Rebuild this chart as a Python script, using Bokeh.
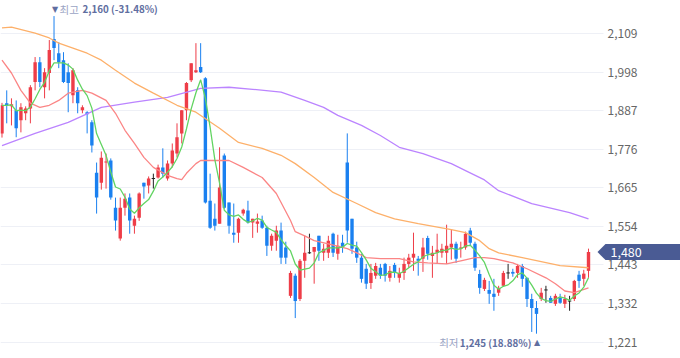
import numpy as np
import pandas as pd
from bokeh.plotting import figure
from bokeh.models import (Range1d, FixedTicker, NumeralTickFormatter, Label, LinearAxis,
                          PolyAnnotation, BoxAnnotation, ColumnDataSource)
from bokeh.embed import file_html
from bokeh.resources import INLINE
from bokeh.core.properties import value

# ---- daily OHLC ----
opens = [1822,1909,1900,1889,1860,1880,1894,1970,2027,1955,1996,2094,2053,2033,1998,1932,1946,1889,1883,1854,
         1709,1680,1738,1744,1608,1519,1608,1637,1556,1579,1680,1672,1692,1695,1724,1692,1735,1764,1822,1889,
         1975,1998,2013,1981,1628,1576,1562,1758,1623,1536,1536,1591,1600,1565,1562,1571,1550,1498,1513,1542,
         1493,1354,1412,1345,1455,1478,1481,1527,1478,1478,1533,1475,1507,1738,1576,1493,1464,1432,1391,1412,
         1435,1446,1406,1443,1406,1420,1446,1464,1461,1461,1521,1469,1478,1478,1478,1493,1504,1490,1493,1542,
         1504,1417,1374,1371,1360,1363,1383,1420,1423,1420,1440,1406,1345,1319,1345,1371,1348,1331,1348,1331,
         1339,1345,1415,1403,1426]
highs = [1910,1946,1923,1917,1909,1900,1961,2042,2042,2010,2091,2160,2085,2056,2024,2010,1955,1903,1886,1860,
         1738,1770,1764,1750,1637,1637,1649,1649,1585,1652,1680,1698,1706,1732,1779,1744,1793,1851,1889,1970,
         2024,2082,2082,1984,1706,1620,1782,1764,1623,1620,1579,1605,1628,1576,1591,1585,1556,1533,1556,1565,
         1510,1426,1418,1460,1527,1533,1495,1527,1504,1527,1536,1530,1530,1822,1576,1510,1475,1446,1446,1449,
         1446,1449,1440,1449,1435,1464,1475,1536,1469,1521,1527,1498,1533,1504,1559,1545,1510,1510,1539,1550,
         1510,1429,1406,1397,1403,1383,1426,1446,1432,1446,1446,1406,1360,1339,1377,1383,1354,1360,1360,1357,
         1354,1400,1426,1429,1490]
lows = [1810,1851,1845,1811,1825,1860,1851,1946,1955,1923,1946,2033,2010,1967,1883,1909,1880,1880,1822,1767,
        1591,1660,1663,1631,1542,1513,1585,1533,1533,1570,1634,1649,1663,1692,1695,1686,1724,1753,1793,1860,
        1970,1996,1996,1620,1547,1542,1562,1605,1533,1507,1507,1585,1562,1521,1536,1547,1469,1484,1484,1446,
        1446,1348,1290,1339,1406,1475,1389,1455,1455,1463,1466,1458,1478,1507,1475,1449,1392,1374,1374,1403,
        1403,1395,1395,1406,1392,1400,1435,1426,1412,1423,1458,1406,1446,1464,1446,1458,1449,1464,1487,1498,
        1426,1360,1368,1331,1311,1354,1380,1403,1409,1406,1380,1322,1250,1245,1339,1334,1334,1325,1331,1319,
        1311,1339,1377,1383,1406]
closes = [1903,1903,1906,1837,1897,1894,1955,2027,1970,1998,2062,2068,2027,1970,1967,2004,1909,1897,1877,1787,
          1637,1752,1741,1637,1571,1608,1634,1571,1576,1649,1669,1692,1692,1724,1706,1735,1773,1811,1889,1967,
          2024,2004,1998,1623,1550,1556,1666,1608,1556,1530,1576,1602,1565,1576,1568,1550,1498,1527,1542,1464,
          1464,1420,1339,1455,1478,1478,1495,1484,1490,1513,1478,1498,1493,1542,1490,1464,1403,1389,1420,1440,
          1412,1412,1426,1420,1420,1446,1464,1475,1455,1493,1475,1478,1487,1490,1498,1504,1461,1493,1533,1507,
          1435,1377,1400,1360,1351,1377,1420,1420,1418,1440,1403,1345,1319,1302,1363,1371,1334,1354,1334,1345,
          1339,1397,1397,1418,1480]

# ---- moving-average lines (candle index, value) ----
ma20_idx = [0,2,4,6,8,10,12,14,17,19,22,24,26,28,30,32,35,37,38,39,41,42,48,51,55,58,61,62,64,66,69,73,75,77,
            80,84,87,90,94,97,100,102,104,108,111,115,117,119,121,124]
ma20_val = [2033,1996,1946,1909,1897,1903,1917,1938,1946,1938,1917,1880,1831,1793,1753,1724,1701,1692,1689,1707,
            1735,1744,1744,1724,1695,1649,1571,1539,1527,1513,1504,1490,1478,1464,1461,1461,1452,1449,1446,1455,
            1464,1464,1461,1449,1432,1406,1389,1368,1363,1377]
ma60_idx = [0,2,7,10,12,15,18,21,24,28,32,37,41,46,50,55,59,62,66,70,75,79,83,88,95,98,101,103,105,110,118,124]
ma60_val = [2126,2128,2111,2097,2082,2068,2053,2033,2004,1967,1938,1903,1883,1837,1796,1779,1759,1735,1695,1652,
            1620,1594,1576,1562,1545,1536,1513,1490,1478,1464,1441,1435]
ma120_idx = [0,7,14,21,28,35,42,48,53,59,64,68,71,76,80,84,89,95,98,102,105,112,120,124]
ma120_val = [1787,1822,1854,1897,1912,1926,1952,1955,1949,1941,1917,1897,1874,1845,1816,1782,1764,1735,1715,1688,
             1657,1620,1594,1576]

y_ticks = [1221, 1332, 1443, 1554, 1665, 1776, 1887, 1998, 2109]

# ---- styling ----
UP, DOWN, DOJI = "#ee3d48", "#1a80f0", "#222222"
C_MA5, C_MA20, C_MA60, C_MA120 = "#62d462", "#fb8585", "#fdb06a", "#bb84ff"
TAG = "#4a5b94"
FONT = "Noto Sans CJK KR"

W, H = 680, 358
AXIS_PX = 603                      # pixel column where the price scale begins
Y0, Y1 = 1173.5, 2204.9
X0, X1 = -0.317, 143.45
X_AX = X0 + AXIS_PX / W * (X1 - X0)

n = len(closes)
idx = np.arange(n)
ma5 = pd.Series(closes, dtype=float).rolling(5, min_periods=1).mean()

o = np.array(opens, float); c = np.array(closes, float)
doji = o == c
colors = np.where(c > o, UP, DOWN)

p = figure(width=W, height=H, output_backend="svg", toolbar_location=None,
           x_range=Range1d(X0, X1), y_range=Range1d(Y0, Y1),
           x_axis_location=None, y_axis_location=None,
           min_border_left=0, min_border_right=0, min_border_top=0, min_border_bottom=0)
p.outline_line_color = None
p.background_fill_color = "white"
p.border_fill_color = "white"
p.xgrid.visible = False
p.ygrid.ticker = FixedTicker(ticks=y_ticks)
p.ygrid.grid_line_color = "#eef0f6"
p.ygrid.grid_line_width = 1

# blank out the grid behind the price scale
p.add_layout(BoxAnnotation(left=X_AX, fill_color="white", fill_alpha=1.0, line_color=None, level="underlay"))

ax = LinearAxis(fixed_location=X_AX, ticker=FixedTicker(ticks=y_ticks),
                formatter=NumeralTickFormatter(format="0,0"))
ax.axis_line_color = None
ax.major_tick_line_color = None
ax.minor_tick_line_color = None
ax.major_tick_out = 0
ax.major_tick_in = 0
ax.major_label_standoff = 4
ax.major_label_text_font = FONT
ax.major_label_text_font_size = "12px"
ax.major_label_text_color = "#666666"
p.add_layout(ax, "right")

wick_col = np.where(doji, DOJI, colors)
src = ColumnDataSource(dict(x=idx, h=highs, l=lows, col=wick_col))
p.segment(x0="x", y0="l", x1="x", y1="h", line_color="col", line_width=1, source=src)

body = ColumnDataSource(dict(x=idx[~doji], top=np.maximum(o, c)[~doji], bot=np.minimum(o, c)[~doji],
                             col=colors[~doji]))
p.vbar(x="x", width=0.72, top="top", bottom="bot", fill_color="col", line_color=None, source=body)
dj = idx[doji]
p.segment(x0=dj - 0.36, y0=c[doji], x1=dj + 0.36, y1=c[doji], line_color=DOJI, line_width=1)

p.line(ma120_idx, ma120_val, line_color=C_MA120, line_width=1.3)
p.line(ma60_idx, ma60_val, line_color=C_MA60, line_width=1.3)
p.line(ma20_idx, ma20_val, line_color=C_MA20, line_width=1.3)
p.line(idx, ma5, line_color=C_MA5, line_width=1.3)

# ---- high / low markers ----
hi_i = int(np.argmax(highs)); hi_v = highs[hi_i]
lo_i = int(np.argmin(lows)); lo_v = lows[lo_i]
last = closes[-1]
hi_txt = f"{hi_v:,} ({(last - hi_v) / hi_v * 100:.2f}%)"
lo_txt = f"{lo_v:,} ({(last - lo_v) / lo_v * 100:.2f}%)"
BOLD_C, LIGHT_C = "#5f6ea0", "#9aa4c4"
NUM_SIZE, KO_SIZE = "9.8px", "10.5px"

p.text(x=[hi_i], y=[hi_v], text=["▼"], x_offset=1, y_offset=-6.6, text_align="center", text_baseline="middle",
       text_font=value("DejaVu Sans"), text_font_size="8px", text_color=BOLD_C)
p.text(x=[hi_i], y=[hi_v], text=["최고"], x_offset=5.5, y_offset=-6.6, text_align="left", text_baseline="middle",
       text_font=value(FONT), text_font_size=KO_SIZE, text_color=LIGHT_C)
p.text(x=[hi_i], y=[hi_v], text=[hi_txt], x_offset=28.5, y_offset=-6.6, text_align="left", text_baseline="middle",
       text_font=value(FONT), text_font_size=NUM_SIZE, text_font_style="bold", text_color=BOLD_C)

p.text(x=[lo_i], y=[lo_v], text=["▲"], x_offset=0.5, y_offset=9.3, text_align="center", text_baseline="middle",
       text_font=value("DejaVu Sans"), text_font_size="8px", text_color=BOLD_C)
p.text(x=[lo_i], y=[lo_v], text=[lo_txt], x_offset=-5, y_offset=9.3, text_align="right", text_baseline="middle",
       text_font=value(FONT), text_font_size=NUM_SIZE, text_font_style="bold", text_color=BOLD_C)
p.text(x=[lo_i], y=[lo_v], text=["최저"], x_offset=-78, y_offset=9.3, text_align="right", text_baseline="middle",
       text_font=value(FONT), text_font_size=KO_SIZE, text_color=LIGHT_C)

# ---- current price tag ----
upx = (Y1 - Y0) / H
half = 8 * upx
tag = PolyAnnotation(xs=[AXIS_PX - 6, AXIS_PX + 2, W, W, AXIS_PX + 2],
                     ys=[last, last + half, last + half, last - half, last - half],
                     xs_units="screen", ys_units="data", fill_color=TAG, fill_alpha=1.0, line_color=None)
p.add_layout(tag)
p.add_layout(Label(x=AXIS_PX + 7, y=last, x_units="screen", y_units="data", text=f"{last:,}",
                   text_baseline="middle", text_align="left", text_color="white",
                   text_font=FONT, text_font_size="12.5px"))

open("out.html", "w").write(file_html(p, INLINE))
